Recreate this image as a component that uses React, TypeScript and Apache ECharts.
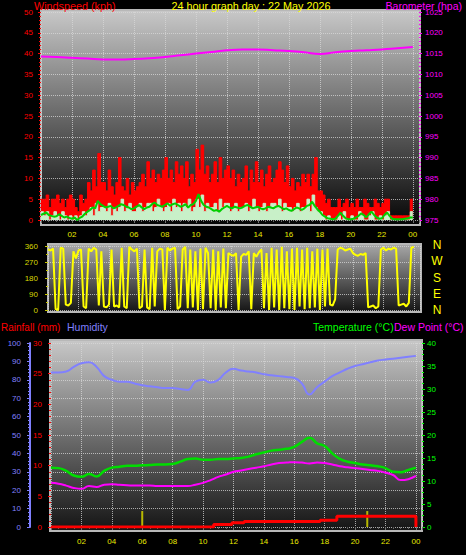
import React, { useEffect, useRef } from 'react';
import * as echarts from 'echarts';

// ---- Data (10-minute samples, 0h .. 24h) ----
const gustKph = [
  5, 5, 6, 3, 5, 5,
  6, 4, 5, 3, 5, 6,
  5, 3, 2, 6, 4, 5,
  9, 7, 12, 8, 16, 9,
  9, 7, 12, 8, 6, 9,
  15, 8, 7, 10, 6, 9,
  7, 8, 9, 11, 8, 14,
  10, 12, 9, 11, 10, 12,
  15, 10, 12, 9, 14, 11,
  13, 10, 14, 8, 11, 9,
  17, 12, 18, 11, 13, 9,
  11, 14, 9, 15, 10, 12,
  13, 10, 12, 8, 11, 9,
  10, 13, 7, 12, 9, 14,
  9, 12, 8, 11, 13, 9,
  10, 12, 14, 12, 9, 13,
  8, 10, 7, 9, 8, 11,
  9, 11, 8, 11, 15, 7,
  7, 6, 4, 5, 3, 3,
  3, 5, 3, 4, 5, 3,
  4, 3, 5, 3, 3, 5,
  4, 3, 3, 5, 4, 3,
  4, 5, 5, 1, 1, 1,
  1, 1, 1, 1, 1, 5,
  5,
];

const speedKph = [
  2, 1, 2, 0, 1, 2,
  1, 0, 2, 1, 0, 1,
  0, 1, 0, 1, 2, 1,
  2, 3, 1, 4, 2, 3,
  3, 2, 4, 1, 3, 2,
  3, 5, 2, 3, 4, 2,
  2, 3, 4, 2, 3, 4,
  4, 2, 3, 5, 3, 2,
  3, 4, 2, 5, 3, 4,
  2, 4, 3, 5, 2, 3,
  5, 3, 6, 2, 4, 3,
  3, 4, 2, 5, 3, 4,
  4, 2, 3, 4, 2, 3,
  3, 4, 2, 3, 5, 3,
  2, 3, 4, 2, 3, 4,
  4, 3, 5, 2, 4, 3,
  3, 2, 3, 4, 2, 3,
  3, 5, 2, 6, 3, 2,
  2, 1, 0, 1, 0, 0,
  0, 1, 0, 2, 0, 0,
  1, 0, 0, 2, 1, 0,
  0, 1, 2, 0, 0, 1,
  0, 1, 2, 0, 0, 0,
  0, 0, 0, 0, 0, 2,
  2,
];

const avgKph = [
  1.2, 1.5, 1.8, 1.2, 1.0, 0.8,
  0.9, 1.4, 1.0, 0.6, 0.8, 0.5,
  0.3, 0.6, 0.0, 0.5, 0.8, 1.5,
  2.0, 2.4, 3.0, 2.8, 4.6, 3.8,
  3.4, 3.0, 3.2, 3.4, 2.8, 3.0,
  3.4, 3.8, 3.6, 3.2, 3.0, 2.6,
  2.8, 3.2, 3.6, 3.0, 2.6, 3.0,
  3.2, 3.8, 4.2, 3.6, 3.4, 3.2,
  3.6, 4.0, 3.4, 3.8, 4.0, 3.6,
  3.2, 3.4, 3.8, 3.0, 3.6, 3.8,
  4.6, 6.2, 4.6, 3.6, 3.2, 3.0,
  2.6, 2.2, 2.4, 2.0, 2.6, 3.0,
  3.4, 3.0, 2.8, 3.2, 3.0, 2.8,
  3.0, 3.4, 3.6, 3.2, 2.8, 3.0,
  3.2, 2.8, 2.6, 2.8, 3.2, 3.0,
  2.8, 3.2, 3.4, 3.0, 2.6, 2.8,
  2.4, 2.2, 2.6, 3.0, 2.8, 2.4,
  2.8, 3.4, 3.6, 4.4, 3.4, 2.6,
  2.0, 1.2, 0.8, 0.4, 0.3, 0.2,
  0.3, 1.0, 1.8, 1.0, 0.4, 0.2,
  0.2, 0.3, 0.6, 1.0, 1.6, 1.2,
  0.6, 1.4, 2.0, 1.2, 0.6, 0.3,
  0.4, 1.2, 1.8, 1.0, 0.3, 0.2,
  0.2, 0.2, 0.2, 0.3, 0.4, 0.6,
  0.6,
];

const windDirDeg = [
  340, 335, 345, 5, 0, 350,
  345, 30, 25, 40, 330, 290,
  335, 340, 20, 10, 345, 330,
  350, 340, 25, 330, 20, 15,
  30, 340, 20, 25, 15, 350,
  20, 10, 355, 340, 330, 345,
  10, 20, 340, 15, 5, 350,
  20, 330, 345, 340, 0, 350,
  335, 345, 350, 5, 20, 340,
  355, 10, 340, 15, 330, 0,
  345, 5, 350, 320, 10, 340,
  0, 330, 15, 345, 10, 320,
  310, 305, 320, 0, 300, 315,
  310, 330, 5, 320, 300, 325,
  340, 10, 320, 0, 350, 15,
  340, 0, 355, 10, 330, 5,
  345, 0, 350, 20, 340, 5,
  350, 10, 330, 15, 345, 0,
  340, 20, 345, 30, 25, 60,
  340, 350, 345, 335, 340, 345,
  320, 310, 305, 315, 310, 320,
  15, 20, 25, 10, 20, 340,
  350, 335, 345, 340, 350, 345,
  25, 30, 35, 20, 40, 350,
  355,
];

// hourly barometer (hPa), 0h .. 24h
const baroHpa = [
  1014.3, 1014.2, 1014.0, 1013.8, 1013.6, 1013.6, 1013.7, 1013.9, 1014.2, 1014.6,
  1015.0, 1015.4, 1015.8, 1016.0, 1016.0, 1015.8, 1015.6, 1015.3, 1014.9, 1015.3,
  1015.6, 1015.8, 1016.0, 1016.3, 1016.6,
];

// half-hourly, 0h .. 24h
const temperatureC = [
  12.9, 12.8, 12.2, 11.2, 10.9, 11.5, 11.0, 12.2, 12.9, 13.1,
  13.3, 13.3, 13.4, 13.5, 13.6, 13.6, 13.7, 14.2, 14.8, 14.9,
  14.6, 14.6, 14.8, 14.8, 14.9, 15.0, 15.3, 15.8, 16.2, 16.6,
  16.8, 17.0, 17.4, 18.5, 19.4, 18.2, 17.6, 16.0, 14.8, 14.2,
  13.9, 13.6, 13.4, 13.2, 12.8, 12.0, 11.9, 12.4, 12.9,
];
const dewPointC = [
  9.6, 9.4, 9.0, 8.5, 8.3, 8.9, 8.7, 9.2, 9.3, 9.2,
  9.1, 9.0, 9.0, 9.0, 8.9, 8.9, 8.9, 8.9, 8.9, 9.2,
  9.6, 10.2, 10.9, 11.4, 12.0, 12.3, 12.6, 12.9, 13.2, 13.6,
  13.9, 14.0, 14.1, 14.0, 13.8, 14.0, 13.9, 13.6, 13.2, 13.0,
  12.8, 12.6, 12.4, 12.2, 11.8, 11.3, 10.2, 10.4, 11.1,
];
const humidityPct = [
  84, 84, 84.5, 87, 89, 89.5, 87, 82, 80, 79,
  79, 78, 77, 76.5, 76, 75.5, 75.5, 75, 74.5, 79,
  80, 78.5, 80, 84, 86, 85, 84.5, 84, 83, 82.5,
  82, 81.5, 81, 78, 72, 76, 79, 82, 84, 86,
  87.5, 88.5, 89.5, 90.5, 91, 91.5, 92, 92.5, 93,
];

// cumulative rainfall (mm)
const rainHours = [0, 10.7, 11.9, 12.7, 17.7, 18.6, 18.8, 24, 24];
const rainTotalMm = [0, 0.4, 0.7, 0.9, 1.1, 1.1, 1.75, 1.75, 0];
// rain rate markers
const rainRateHours = [6, 20.8];
const rainRateMm = [2.6, 2.6];

const compassLabels = ['N', 'W', 'S', 'E', 'N'];

const FONT = '"Liberation Sans", Arial, sans-serif';

const hourFmt = (v: number) =>
  v > 0 && v <= 24 && Math.abs(v % 2) < 1e-6 ? String(Math.round(v) % 24).padStart(2, '0') : '';

const gridLine = { show: true, lineStyle: { color: '#d8d8d8', type: 'dotted', width: 1, opacity: 0.75 } };

function xAxisFor(gridIndex: number, showLabels: boolean) {
  return {
    type: 'value',
    gridIndex,
    min: 0,
    max: 24.4,
    interval: 2,
    axisLine: { show: false },
    axisTick: { show: showLabels, length: 3, lineStyle: { color: '#707070' } },
    minorTick: { show: showLabels, splitNumber: 4, length: 2, lineStyle: { color: '#606060' } },
    splitLine: gridLine,
    axisLabel: {
      show: showLabels,
      color: '#e8e800',
      fontSize: 8,
      fontFamily: FONT,
      margin: 10,
      formatter: hourFmt,
      showMaxLabel: false,
    },
  };
}

function yAxisFor(o: any) {
  return {
    type: 'value',
    gridIndex: o.grid,
    position: o.pos,
    offset: o.offset || 0,
    min: o.min,
    max: o.max,
    interval: o.interval,
    axisLine: o.line ? { show: true, lineStyle: { color: o.color, width: 2 } } : { show: false },
    axisTick: { show: true, length: 3, lineStyle: { color: o.color } },
    minorTick: { show: true, splitNumber: o.minor || 5, length: 2, lineStyle: { color: o.color } },
    splitLine: o.split ? gridLine : { show: false },
    axisLabel: {
      color: o.labelColor || o.color,
      fontSize: 8,
      fontFamily: FONT,
      margin: o.margin,
      formatter: (v: number) => String(v),
    },
  };
}

function text(t: string, x: number, y: number, fill: string, align = 'left', size = 11) {
  return {
    type: 'text',
    x,
    y,
    z: 10,
    style: { text: t, fill, font: `${size}px ${FONT}`, align, verticalAlign: 'middle' },
  };
}

function box(x: number, y: number, w: number, h: number, top: string, bottom: string) {
  return {
    type: 'rect',
    z: -10,
    shape: { x, y, width: w, height: h },
    style: {
      fill: new echarts.graphic.LinearGradient(0, 0, 0, 1, [
        { offset: 0, color: top },
        { offset: 1, color: bottom },
      ]),
      stroke: '#b8b8b8',
      lineWidth: 2,
    },
  };
}

export default function App() {
  const ref = useRef<HTMLDivElement>(null);
  useEffect(() => {
    document.body.style.background = '#000';
    const chart = echarts.init(ref.current!, null, { renderer: 'svg' });
    const t10 = (arr: number[]) => arr.map((v, i) => [i / 6, v]);
    const t30 = (arr: number[]) => arr.map((v, i) => [i / 2, v]);

    const option: any = {
      animation: false,
      backgroundColor: '#000',
      graphic: [
        box(41, 10, 379, 215, '#c8c8c8', '#050505'),
        box(48, 244, 373, 68, '#a8a8a8', '#141414'),
        box(50, 340, 372, 191, '#c8c8c8', '#141414'),
        text('Windspeed (kph)', 34, 5.5, '#ff0000', 'left', 10.8),
        text('24 hour graph day : 22 May 2026', 251, 5.5, '#ffff00', 'center', 10.8),
        text('Barometer (hpa)', 462, 5.5, '#ff00ff', 'right', 10.5),
        text('Rainfall (mm)', 1, 327, '#ff0000', 'left', 10),
        text('Humidity', 67, 327, '#8080ff', 'left', 10.5),
        text('Temperature (°C)', 313, 327, '#00ff00', 'left', 10.5),
        text('Dew Point (°C)', 394, 327, '#ff00ff', 'left', 10.5),
        ...compassLabels.map((c, i) => text(c, 437, 245 + i * 16.3, '#ffff00', 'center', 12)),
      ],
      grid: [
        { left: 41, top: 12, width: 378, height: 208 },
        { left: 48, top: 246, width: 372, height: 64 },
        { left: 51, top: 343, width: 371, height: 184 },
      ],
      xAxis: [xAxisFor(0, true), xAxisFor(1, false), xAxisFor(2, true)],
      yAxis: [
        yAxisFor({ grid: 0, pos: 'left', min: 0, max: 50, interval: 5, color: '#ff0000', margin: 8, split: true }),
        yAxisFor({ grid: 0, pos: 'right', min: 975, max: 1025, interval: 5, color: '#ff00ff', margin: 6 }),
        yAxisFor({ grid: 1, pos: 'left', min: 0, max: 360, interval: 90, color: '#c8c800', labelColor: '#d8d800', margin: 10, split: true, minor: 2 }),
        yAxisFor({ grid: 2, pos: 'left', min: 0, max: 30, interval: 5, color: '#ff0000', margin: 9 }),
        yAxisFor({ grid: 2, pos: 'left', offset: 21, min: 0, max: 100, interval: 10, color: '#8080ff', margin: 9, line: true, split: true }),
        yAxisFor({ grid: 2, pos: 'right', min: 0, max: 40, interval: 5, color: '#00ff00', margin: 5, minor: 4 }),
      ],
      series: [
        {
          type: 'line', xAxisIndex: 0, yAxisIndex: 0, data: t10(gustKph), step: 'end', symbol: 'none',
          lineStyle: { color: '#ff0000', width: 1 }, areaStyle: { color: '#ff0000', opacity: 1 }, z: 2,
        },
        {
          type: 'line', xAxisIndex: 0, yAxisIndex: 0, data: t10(speedKph), step: 'end', symbol: 'none',
          lineStyle: { color: '#c8f0c8', width: 1 }, areaStyle: { color: '#c8f0c8', opacity: 1 }, z: 3,
        },
        {
          type: 'line', xAxisIndex: 0, yAxisIndex: 0, data: t10(avgKph), symbol: 'none',
          lineStyle: { color: '#00d000', width: 2 }, z: 4,
        },
        {
          type: 'line', xAxisIndex: 0, yAxisIndex: 1, data: baroHpa.map((v, i) => [i, v]), symbol: 'none', smooth: true,
          lineStyle: { color: '#ff00ff', width: 2 }, z: 5,
        },
        {
          type: 'line', xAxisIndex: 1, yAxisIndex: 2, data: t10(windDirDeg), symbol: 'none',
          lineStyle: { color: '#ffff00', width: 2 }, z: 3,
        },
        {
          type: 'line', xAxisIndex: 2, yAxisIndex: 4, data: t30(humidityPct), symbol: 'none', smooth: true,
          lineStyle: { color: '#8080ff', width: 2 }, z: 3,
        },
        {
          type: 'line', xAxisIndex: 2, yAxisIndex: 5, data: t30(temperatureC), symbol: 'none', smooth: true,
          lineStyle: { color: '#00dd00', width: 2.5 }, z: 4,
        },
        {
          type: 'line', xAxisIndex: 2, yAxisIndex: 5, data: t30(dewPointC), symbol: 'none', smooth: true,
          lineStyle: { color: '#ff00ff', width: 2 }, z: 4,
        },
        {
          type: 'line', xAxisIndex: 2, yAxisIndex: 3, data: rainHours.map((h, i) => [h, rainTotalMm[i]]), step: 'end', symbol: 'none',
          lineStyle: { color: '#ff0000', width: 3 }, z: 5,
        },
        {
          type: 'bar', xAxisIndex: 2, yAxisIndex: 3, data: rainRateHours.map((h, i) => [h, rainRateMm[i]]), barWidth: 2,
          itemStyle: { color: '#b8b800' }, z: 4,
        },
      ],
    };
    chart.setOption(option);
    return () => chart.dispose();
  }, []);
  return <div ref={ref} style={{ position: 'absolute', left: 0, top: 0, width: 466, height: 555, background: '#000' }} />;
}
